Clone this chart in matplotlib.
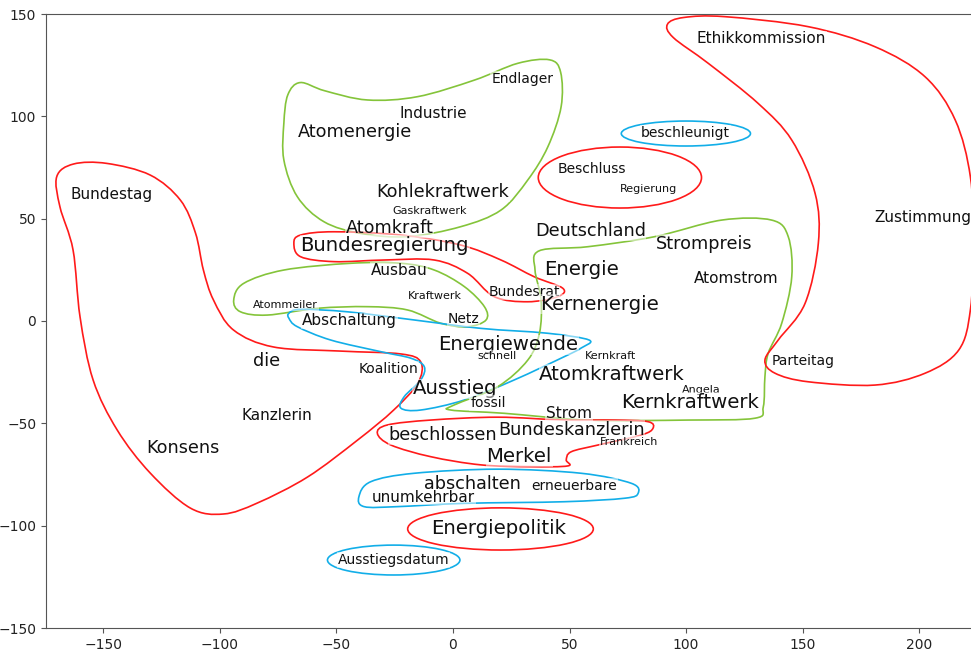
import numpy as np
import matplotlib
matplotlib.use('Agg')
import matplotlib.pyplot as plt
from matplotlib.path import Path
from matplotlib.patches import PathPatch, Ellipse

# words: label, x, y, fontsize
words = ['Ethikkommission', 'Zustimmung', 'Endlager', 'Industrie', 'Atomenergie',
         'beschleunigt', 'Beschluss', 'Regierung', 'Bundestag', 'Kohlekraftwerk',
         'Gaskraftwerk', 'Atomkraft', 'Deutschland', 'Bundesregierung', 'Strompreis',
         'Energie', 'Ausbau', 'Atomstrom', 'Bundesrat', 'Kraftwerk', 'Kernenergie',
         'Atommeiler', 'Abschaltung', 'Netz', 'Energiewende', 'schnell', 'Kernkraft',
         'die', 'Parteitag', 'Koalition', 'Atomkraftwerk', 'Ausstieg', 'Angela',
         'fossil', 'Kernkraftwerk', 'Kanzlerin', 'Strom', 'Bundeskanzlerin',
         'beschlossen', 'Frankreich', 'Konsens', 'Merkel', 'abschalten',
         'erneuerbare', 'unumkehrbar', 'Energiepolitik', 'Ausstiegsdatum']
word_x = [132.4, 201.5, 29.7, -8.6, -42.1, 99.7, 59.7, 83.8, -146.5, -4.3,
          -9.9, -27.1, 58.9, -29.2, 107.9, 55.0, -23.2, 121.6, 30.5, -7.7, 62.7,
          -71.8, -44.3, 4.7, 23.6, 18.9, 67.5, -79.9, 150.0, -27.5, 68.3, 0.9,
          106.6, 15.0, 101.8, -75.6, 49.8, 50.7, -4.3, 75.6, -116.0, 28.4, 8.2,
          52.0, -12.5, 19.8, -25.4]
word_y = [137.8, 50.8, 118.2, 101.6, 92.3, 91.8, 74.3, 64.5, 61.6, 63.0,
          53.7, 45.4, 44.0, 37.1, 37.6, 25.4, 24.9, 21.0, 14.2, 12.2, 8.3,
          7.8, 0.0, 1.0, -11.7, -17.1, -17.1, -19.5, -19.5, -23.4, -25.9, -33.2,
          -33.7, -40.1, -39.6, -46.4, -45.4, -53.2, -55.7, -59.1, -62.0, -66.4, -79.6,
          -80.6, -86.0, -101.6, -116.8]
word_size = [11, 11, 10, 11, 12.7, 10, 10, 8, 11, 12.7,
             8, 12.7, 12.7, 14.2, 12.7, 14.2, 11, 11, 10, 8, 14.2,
             8, 11, 10, 14.2, 8, 8, 12.7, 10, 10, 14.2, 14.2,
             8, 10, 14.2, 11, 11, 12.7, 12.7, 8, 12.7, 14.2, 12.7,
             10, 11, 14.2, 10]

RED = '#ff1a1a'
GREEN = '#84c43a'
BLUE = '#12aee8'

# free-form cluster outlines (points on the curve)
red_left = [(-169.9, 70.5), (-162.7, 76.7), (-148.4, 77.0), (-129.8, 71.3), (-116.9, 59.1),
            (-110.4, 43.0), (-107.0, 24.9), (-102.7, 10.3), (-94.1, -4.4), (-76.9, -12.7),
            (-48.1, -14.7), (-22.3, -16.1), (-13.8, -20.0), (-15.0, -30.3), (-25.4, -43.5),
            (-40.8, -58.1), (-62.3, -76.2), (-83.8, -88.9), (-98.4, -94.3), (-112.6, -91.4),
            (-129.8, -74.3), (-144.0, -53.2), (-154.3, -28.8), (-159.9, 2.0), (-162.9, 34.7),
            (-168.5, 55.7)]
green_top = [(-65.5, 116.5), (-70.8, 110.5), (-72.5, 96.6), (-72.5, 78.7), (-66.7, 60.7),
             (-55.3, 48.5), (-39.5, 42.8), (-19.5, 41.2), (3.4, 46.1), (20.6, 54.2),
             (32.1, 68.9), (40.7, 85.1), (46.4, 104.7), (46.2, 121.5), (41.5, 127.6),
             (27.8, 125.9), (9.2, 117.7), (-15.2, 109.6), (-36.7, 108.0), (-55.0, 112.5)]
red_bundesreg = [(-68.2, 38.0), (-65.3, 42.0), (-51.0, 43.6), (-22.3, 42.0), (3.4, 37.1),
                 (20.6, 29.8), (34.9, 21.6), (47.1, 16.0), (45.0, 11.9), (32.1, 9.4),
                 (17.7, 11.9), (6.3, 23.3), (-8.0, 29.8), (-29.5, 29.8), (-51.0, 29.0),
                 (-65.3, 31.4)]
green_mid = [(-94.0, 10.3), (-89.7, 18.4), (-72.5, 24.9), (-43.8, 28.2), (-22.3, 28.2),
             (-8.0, 24.9), (4.9, 16.8), (13.5, 7.0), (14.2, 0.5), (6.3, -2.8),
             (-5.2, -1.1), (-19.5, 5.4), (-36.7, 7.0), (-58.1, 6.2), (-79.6, 2.9),
             (-91.1, 4.5)]
blue_mid = [(-70.3, 3.8), (-65.3, 5.7), (-45.3, 4.5), (-16.6, 0.5), (12.0, -3.6),
            (40.7, -6.0), (58.4, -9.3), (55.0, -13.2), (47.8, -17.4), (26.3, -28.8),
            (4.9, -38.6), (-13.8, -43.5), (-22.3, -42.6), (-20.9, -37.0), (-13.8, -28.8),
            (-12.3, -22.3), (-18.0, -18.2), (-30.9, -15.0), (-52.4, -9.3), (-66.7, -2.8),
            (-70.3, 1.3)]
green_right = [(37.0, 34.3), (57.9, 36.3), (86.5, 41.2), (115.2, 49.3),
               (136.7, 49.3), (143.8, 41.2), (145.3, 21.6), (141.0, -1.1), (135.2, -15.8),
               (133.8, -27.2), (133.1, -41.9), (129.5, -47.5), (100.9, -48.4), (57.9, -48.4),
               (22.0, -45.1), (-0.9, -43.5), (0.6, -41.0), (19.2, -32.1), (32.1, -19.1),
               (37.1, -6.0), (37.8, 10.3), (35.2, 25.0)]
red_right = [(92.0, 145.0), (99.0, 148.3), (116.6, 148.7), (152.4, 143.8), (181.0, 134.0),
             (202.5, 119.3), (215.4, 98.2), (221.9, 70.5), (223.3, 38.0), (221.9, 5.4),
             (216.9, -14.2), (202.5, -25.5), (181.0, -31.3), (152.4, -29.7), (138.1, -25.5),
             (133.8, -19.1), (139.5, -9.3), (151.0, 8.6), (156.7, 38.0), (155.3, 62.4),
             (145.3, 88.4), (130.9, 106.3), (109.5, 125.9), (94.5, 138.5)]
blue_low = [(-40.3, -85.8), (-35.2, -78.5), (-16.6, -74.4), (19.2, -72.4), (55.0, -74.4),
            (76.5, -79.3), (79.4, -84.2), (73.6, -86.6), (47.8, -88.3), (4.9, -89.1),
            (-23.8, -90.7), (-38.1, -90.7)]
red_merkel = [(-32.4, -54.9), (-28.1, -50.8), (-9.5, -48.4), (19.2, -47.0), (47.8, -48.4),
              (69.3, -48.4), (83.7, -49.2), (85.8, -52.4), (80.8, -55.7), (62.2, -60.6),
              (50.7, -63.9), (48.6, -67.9), (49.3, -70.8), (33.5, -71.2), (12.0, -70.3),
              (-9.5, -66.3), (-26.6, -60.6)]

outlines = [(red_left, RED), (green_top, GREEN), (red_bundesreg, RED), (green_mid, GREEN),
            (blue_mid, BLUE), (green_right, GREEN), (red_right, RED), (blue_low, BLUE),
            (red_merkel, RED)]

# elliptical outlines: center, width, height
ellipses = [((71.6, 70.1), 70.0, 29.8, RED),
            ((99.9, 91.6), 55.4, 12.2, BLUE),
            ((20.4, -101.6), 79.6, 20.6, RED),
            ((-25.4, -116.8), 56.8, 14.6, BLUE)]


def closed_smooth_path(pts):
    # closed Catmull-Rom outline drawn as cubic bezier segments
    p = np.array(pts)
    n = len(p)
    verts = [p[0]]
    codes = [Path.MOVETO]
    for i in range(n):
        p0, p1, p2, p3 = p[i - 1], p[i], p[(i + 1) % n], p[(i + 2) % n]
        verts += [p1 + (p2 - p0) / 6, p2 - (p3 - p1) / 6, p2]
        codes += [Path.CURVE4] * 3
    return Path(verts, codes)


fig = plt.figure(figsize=(9.71, 6.5), dpi=100)
ax = fig.add_axes([46 / 971, 22 / 650, 1 - 46 / 971 + 0.002, 614 / 650])

for pts, col in outlines:
    ax.add_patch(PathPatch(closed_smooth_path(pts), fill=False, ec=col, lw=1.2))
for c, w, h, col in ellipses:
    ax.add_patch(Ellipse(c, w, h, fill=False, ec=col, lw=1.2))

for w, x, y, s in zip(words, word_x, word_y, word_size):
    ax.text(x, y, w, fontsize=s, ha='center', va='center', color='#111111',
            bbox=dict(fc='white', ec='none', alpha=0.5, pad=0.5))

ax.set_xlim(-174.5, 223.0)
ax.set_ylim(-150, 150)
ax.set_xticks([-150, -100, -50, 0, 50, 100, 150, 200])
ax.set_yticks([-150, -100, -50, 0, 50, 100, 150])
ax.spines['right'].set_visible(False)
for sp in ax.spines.values():
    sp.set_color('#555555')
ax.tick_params(color='#555555', labelcolor='#222222')

fig.savefig('out.png', dpi=100)
